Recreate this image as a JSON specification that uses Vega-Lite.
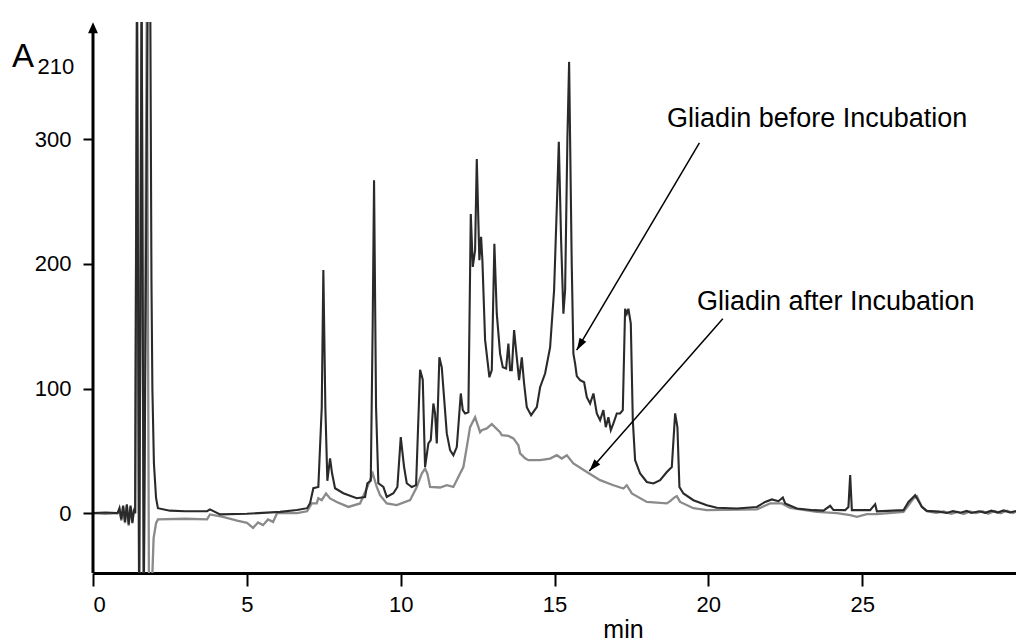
{
  "$schema": "https://vega.github.io/schema/vega-lite/v6.json",
  "width": 923,
  "height": 551,
  "autosize": {"type": "none"},
  "padding": {"left": 93, "top": 22, "right": 0, "bottom": 70},
  "background": "white",
  "config": {"view": {"stroke": null}, "font": "Liberation Sans"},
  "datasets": {
    "before": [
      {"t":0,"A":0},{"t":0.4,"A":0.5},{"t":0.8,"A":0},{"t":0.86,"A":4},{"t":0.92,"A":-5},{"t":0.98,"A":6},{"t":1.04,"A":-7},{"t":1.1,"A":7},{"t":1.16,"A":-9},{"t":1.22,"A":6},{"t":1.28,"A":-8},{"t":1.33,"A":3},{"t":1.37,"A":0},{"t":1.43,"A":420},{"t":1.5,"A":-70},{"t":1.58,"A":420},{"t":1.65,"A":-70},{"t":1.78,"A":420},{"t":1.86,"A":420},{"t":1.9,"A":187},{"t":1.93,"A":100},{"t":1.98,"A":40},{"t":2.05,"A":12},{"t":2.11,"A":4},{"t":2.5,"A":2},{"t":3.0,"A":1.5},{"t":3.71,"A":1.6},{"t":3.8,"A":3},{"t":4.13,"A":-1},{"t":5.0,"A":-0.5},{"t":6.08,"A":1},{"t":6.63,"A":2.5},{"t":6.96,"A":4},{"t":7.055,"A":8},{"t":7.162,"A":20},{"t":7.324,"A":21},{"t":7.435,"A":85},{"t":7.487,"A":195},{"t":7.552,"A":85},{"t":7.617,"A":26},{"t":7.705,"A":44},{"t":7.77,"A":32},{"t":7.867,"A":20},{"t":8.137,"A":16},{"t":8.573,"A":12},{"t":8.843,"A":13},{"t":8.917,"A":24},{"t":9.028,"A":26},{"t":9.09,"A":150},{"t":9.135,"A":267},{"t":9.2,"A":85},{"t":9.275,"A":24},{"t":9.438,"A":21},{"t":9.548,"A":13},{"t":9.763,"A":16},{"t":9.893,"A":21},{"t":10.003,"A":61},{"t":10.111,"A":37},{"t":10.198,"A":24},{"t":10.361,"A":21},{"t":10.501,"A":22.5},{"t":10.631,"A":115},{"t":10.718,"A":107},{"t":10.793,"A":37},{"t":10.901,"A":56},{"t":10.978,"A":58.5},{"t":11.063,"A":88},{"t":11.118,"A":80},{"t":11.174,"A":56},{"t":11.258,"A":125},{"t":11.336,"A":117},{"t":11.499,"A":64},{"t":11.606,"A":50.5},{"t":11.713,"A":46.5},{"t":11.824,"A":53},{"t":11.954,"A":96},{"t":12.019,"A":82.6},{"t":12.094,"A":80},{"t":12.201,"A":81},{"t":12.279,"A":240},{"t":12.344,"A":197.5},{"t":12.419,"A":211},{"t":12.474,"A":284},{"t":12.558,"A":203},{"t":12.614,"A":221.6},{"t":12.656,"A":203},{"t":12.744,"A":139},{"t":12.884,"A":109},{"t":12.962,"A":114.7},{"t":13.046,"A":216},{"t":13.124,"A":160},{"t":13.231,"A":128},{"t":13.319,"A":117},{"t":13.427,"A":116},{"t":13.501,"A":136},{"t":13.557,"A":114.7},{"t":13.612,"A":114.7},{"t":13.687,"A":146.8},{"t":13.774,"A":125},{"t":13.849,"A":106.7},{"t":13.937,"A":125},{"t":14.012,"A":104},{"t":14.099,"A":85},{"t":14.239,"A":78.6},{"t":14.425,"A":85},{"t":14.532,"A":101},{"t":14.694,"A":112},{"t":14.857,"A":133},{"t":14.987,"A":179},{"t":15.075,"A":245.6},{"t":15.14,"A":298},{"t":15.215,"A":219},{"t":15.289,"A":160},{"t":15.345,"A":179},{"t":15.419,"A":300},{"t":15.475,"A":362},{"t":15.507,"A":300},{"t":15.56,"A":200},{"t":15.614,"A":128},{"t":15.67,"A":120},{"t":15.725,"A":110},{"t":15.832,"A":106.7},{"t":15.962,"A":105},{"t":16.05,"A":93},{"t":16.157,"A":88},{"t":16.265,"A":96},{"t":16.375,"A":80},{"t":16.482,"A":74.6},{"t":16.589,"A":82.6},{"t":16.667,"A":69},{"t":16.752,"A":77},{"t":16.83,"A":66.6},{"t":16.915,"A":72},{"t":17.025,"A":80},{"t":17.132,"A":80},{"t":17.22,"A":82.6},{"t":17.295,"A":164},{"t":17.35,"A":160},{"t":17.402,"A":164},{"t":17.48,"A":152},{"t":17.545,"A":74.6},{"t":17.62,"A":42.5},{"t":17.783,"A":31.8},{"t":18.0,"A":25},{"t":18.215,"A":23.8},{"t":18.433,"A":26.5},{"t":18.651,"A":33},{"t":18.813,"A":37},{"t":18.921,"A":80},{"t":18.995,"A":69},{"t":19.06,"A":21},{"t":19.19,"A":15.8},{"t":19.515,"A":10.4},{"t":19.951,"A":6.4},{"t":20.276,"A":4.3},{"t":20.927,"A":3.7},{"t":21.577,"A":5},{"t":21.847,"A":9},{"t":22.064,"A":11},{"t":22.279,"A":9.6},{"t":22.422,"A":12.6},{"t":22.497,"A":7.8},{"t":22.877,"A":3.7},{"t":23.417,"A":2.4},{"t":23.742,"A":2},{"t":23.96,"A":5.9},{"t":24.067,"A":2.5},{"t":24.447,"A":2.4},{"t":24.554,"A":5},{"t":24.61,"A":30.5},{"t":24.665,"A":2.4},{"t":25.26,"A":2.4},{"t":25.423,"A":7.2},{"t":25.478,"A":1.5},{"t":26.343,"A":2.4},{"t":26.505,"A":9},{"t":26.723,"A":14.4},{"t":26.941,"A":5},{"t":27.103,"A":1.8},{"t":27.5,"A":1.2},{"t":27.75,"A":0.2},{"t":27.95,"A":1.6},{"t":28.2,"A":0.4},{"t":28.4,"A":1.8},{"t":28.55,"A":0.2},{"t":28.8,"A":1.5},{"t":29.0,"A":0.3},{"t":29.2,"A":2},{"t":29.4,"A":0.5},{"t":29.6,"A":2.2},{"t":29.8,"A":0.6},{"t":30.0,"A":1.8}
    ],
    "after": [
      {"t":0,"A":0},{"t":0.4,"A":-0.5},{"t":0.8,"A":0},{"t":0.86,"A":3},{"t":0.92,"A":-6},{"t":0.98,"A":5},{"t":1.04,"A":-8},{"t":1.1,"A":6},{"t":1.16,"A":-10},{"t":1.22,"A":5},{"t":1.28,"A":-7},{"t":1.33,"A":2},{"t":1.37,"A":0},{"t":1.43,"A":420},{"t":1.5,"A":-70},{"t":1.58,"A":420},{"t":1.65,"A":-70},{"t":1.75,"A":420},{"t":1.82,"A":-70},{"t":1.9,"A":-70},{"t":1.97,"A":-20},{"t":2.05,"A":-8},{"t":2.11,"A":-5},{"t":3.0,"A":-4.5},{"t":3.706,"A":-5},{"t":3.804,"A":-1},{"t":4.226,"A":-3},{"t":4.681,"A":-6},{"t":5.006,"A":-7.8},{"t":5.202,"A":-11.8},{"t":5.364,"A":-7.5},{"t":5.527,"A":-9.6},{"t":5.689,"A":-5},{"t":5.852,"A":-7},{"t":5.982,"A":0},{"t":6.632,"A":0},{"t":6.957,"A":1.5},{"t":7.11,"A":7.8},{"t":7.272,"A":7.8},{"t":7.324,"A":12},{"t":7.435,"A":10.4},{"t":7.575,"A":15.8},{"t":7.705,"A":11.8},{"t":7.923,"A":9},{"t":8.3,"A":5},{"t":8.68,"A":7.8},{"t":8.917,"A":21},{"t":9.093,"A":31.8},{"t":9.223,"A":21},{"t":9.33,"A":14.4},{"t":9.548,"A":7.8},{"t":9.873,"A":6.4},{"t":10.306,"A":10.4},{"t":10.524,"A":21},{"t":10.686,"A":31.8},{"t":10.793,"A":35.8},{"t":10.868,"A":31.8},{"t":10.956,"A":21},{"t":11.281,"A":20.6},{"t":11.499,"A":22.4},{"t":11.713,"A":21},{"t":11.931,"A":31.8},{"t":12.038,"A":37},{"t":12.149,"A":53},{"t":12.256,"A":69},{"t":12.419,"A":77},{"t":12.581,"A":65},{"t":12.636,"A":66.6},{"t":12.799,"A":68},{"t":12.962,"A":71.4},{"t":13.231,"A":65},{"t":13.287,"A":62.5},{"t":13.501,"A":62},{"t":13.664,"A":60},{"t":13.826,"A":54.5},{"t":13.882,"A":48},{"t":14.044,"A":44},{"t":14.151,"A":42.5},{"t":14.532,"A":42.5},{"t":14.857,"A":43.8},{"t":15.075,"A":46.5},{"t":15.237,"A":43.8},{"t":15.4,"A":46.5},{"t":15.614,"A":39.9},{"t":16.05,"A":33},{"t":16.482,"A":26.5},{"t":16.915,"A":22.4},{"t":17.24,"A":19.8},{"t":17.35,"A":22.4},{"t":17.513,"A":15.8},{"t":18.0,"A":9},{"t":18.651,"A":7.8},{"t":18.758,"A":9.6},{"t":18.921,"A":13},{"t":18.976,"A":13.6},{"t":19.083,"A":9},{"t":19.515,"A":4},{"t":19.951,"A":2.4},{"t":21.577,"A":3},{"t":22.009,"A":7.8},{"t":22.389,"A":7.8},{"t":22.659,"A":4.3},{"t":23.527,"A":1},{"t":24.177,"A":0},{"t":24.61,"A":-1.6},{"t":24.828,"A":-3},{"t":25.153,"A":-0.8},{"t":25.478,"A":-0.8},{"t":26.343,"A":1},{"t":26.668,"A":11.8},{"t":26.778,"A":13.6},{"t":26.941,"A":5},{"t":27.103,"A":1.5},{"t":27.4,"A":0.2},{"t":27.65,"A":1.3},{"t":27.9,"A":-0.5},{"t":28.1,"A":1},{"t":28.3,"A":-0.6},{"t":28.5,"A":1.4},{"t":28.7,"A":0},{"t":28.9,"A":1.5},{"t":29.1,"A":-0.4},{"t":29.3,"A":1.8},{"t":29.5,"A":0},{"t":29.7,"A":1.9},{"t":29.9,"A":0.2},{"t":30.0,"A":1}
    ],
    "arrows": [
      {"label":"Gliadin before Incubation","t":19.71,"A":297,"t2":15.72,"A2":130.7},
      {"label":"Gliadin after Incubation","t":20.47,"A":156,"t2":16.13,"A2":33.9}
    ],
    "labels": [
      {"label":"Gliadin before Incubation","t":18.66,"A":309.5},
      {"label":"Gliadin after Incubation","t":19.63,"A":162.8}
    ]
  },
  "layer": [
    {
      "data": {"name": "after"},
      "mark": {"type": "line", "clip": true, "color": "#8a8a8a", "strokeWidth": 2.3},
      "encoding": {
        "x": {"field": "t", "type": "quantitative",
          "scale": {"domain": [0, 30], "nice": false, "zero": false},
          "axis": {"values": [0, 5, 10, 15, 20, 25], "grid": false, "domainWidth": 3, "domainColor": "black",
            "tickSize": 13, "tickWidth": 2, "tickColor": "black", "labelFontSize": 22, "labelColor": "black",
            "labelPadding": 8, "labelFont": "Liberation Sans",
            "title": "min", "titleFontSize": 25, "titleFontWeight": "normal", "titleColor": "black",
            "titleFont": "Liberation Sans", "titleX": 530, "titleY": 64, "titleBaseline": "alphabetic"}},
        "y": {"field": "A", "type": "quantitative",
          "scale": {"domain": [-48, 394], "nice": false, "zero": false},
          "axis": {"values": [0, 100, 200, 300], "grid": false, "domain": false,
            "tickSize": 10, "tickWidth": 2, "tickColor": "black", "labelFontSize": 22, "labelColor": "black",
            "labelPadding": 12, "labelFont": "Liberation Sans", "title": null}}
      }
    },
    {
      "data": {"name": "before"},
      "mark": {"type": "line", "clip": true, "color": "#2a2a2a", "strokeWidth": 2.1},
      "encoding": {
        "x": {"field": "t", "type": "quantitative"},
        "y": {"field": "A", "type": "quantitative"}
      }
    },
    {
      "data": {"values": [{"t": 0, "A": -48, "A2": 386}]},
      "mark": {"type": "rule", "color": "black", "strokeWidth": 3},
      "encoding": {
        "x": {"field": "t", "type": "quantitative"},
        "y": {"field": "A", "type": "quantitative"},
        "y2": {"field": "A2"}
      }
    },
    {
      "data": {"values": [{"t": 0, "A": 389.3}]},
      "mark": {"type": "point", "filled": true, "color": "black", "opacity": 1, "size": 121, "shape": "M0,-1L-0.9,1L0.9,1Z"},
      "encoding": {
        "x": {"field": "t", "type": "quantitative"},
        "y": {"field": "A", "type": "quantitative"}
      }
    },
    {
      "data": {"name": "arrows"},
      "mark": {"type": "rule", "color": "black", "strokeWidth": 1.5},
      "encoding": {
        "x": {"field": "t", "type": "quantitative"},
        "y": {"field": "A", "type": "quantitative"},
        "x2": {"field": "t2"},
        "y2": {"field": "A2"}
      }
    },
    {
      "data": {"values": [{"t": 15.824, "A": 134.9}]},
      "mark": {"type": "point", "filled": true, "color": "black", "opacity": 1, "size": 144, "angle": 210.6, "shape": "M0,-1L-0.65,1L0.65,1Z"},
      "encoding": {
        "x": {"field": "t", "type": "quantitative"},
        "y": {"field": "A", "type": "quantitative"}
      }
    },
    {
      "data": {"values": [{"t": 16.263, "A": 37.5}]},
      "mark": {"type": "point", "filled": true, "color": "black", "opacity": 1, "size": 144, "angle": 221.2, "shape": "M0,-1L-0.65,1L0.65,1Z"},
      "encoding": {
        "x": {"field": "t", "type": "quantitative"},
        "y": {"field": "A", "type": "quantitative"}
      }
    },
    {
      "data": {"name": "labels"},
      "mark": {"type": "text", "align": "left", "baseline": "alphabetic", "fontSize": 27, "color": "black", "font": "Liberation Sans"},
      "encoding": {
        "x": {"field": "t", "type": "quantitative"},
        "y": {"field": "A", "type": "quantitative"},
        "text": {"field": "label"}
      }
    },
    {
      "data": {"values": [{"label": "A", "t": -2.63, "A": 357.9}]},
      "mark": {"type": "text", "align": "left", "baseline": "alphabetic", "fontSize": 33, "color": "black", "font": "Liberation Sans"},
      "encoding": {
        "x": {"field": "t", "type": "quantitative"},
        "y": {"field": "A", "type": "quantitative"},
        "text": {"field": "label"}
      }
    },
    {
      "data": {"values": [{"label": "210", "t": -1.8, "A": 352.6}]},
      "mark": {"type": "text", "align": "left", "baseline": "alphabetic", "fontSize": 22, "color": "black", "font": "Liberation Sans"},
      "encoding": {
        "x": {"field": "t", "type": "quantitative"},
        "y": {"field": "A", "type": "quantitative"},
        "text": {"field": "label"}
      }
    }
  ]
}
